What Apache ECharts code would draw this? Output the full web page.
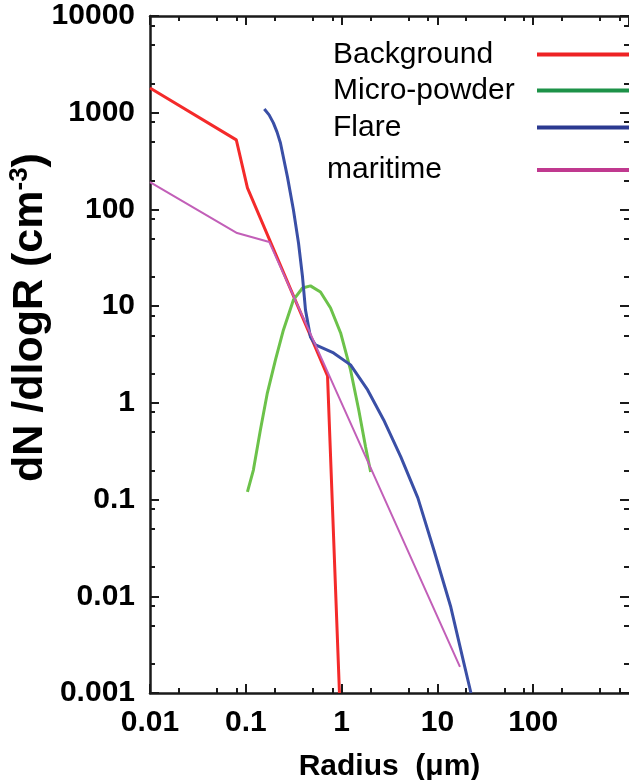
<!DOCTYPE html>
<html>
<head>
<meta charset="utf-8">
<script src="https://cdn.jsdelivr.net/npm/echarts@6/dist/echarts.min.js"></script>
<style>
html,body{margin:0;padding:0;background:#fff;}
#chart{width:629px;height:780px;}
</style>
</head>
<body>
<div id="chart"></div>
<script>
// ---- data ----
const seriesNames = ['Background', 'Micro-powder', 'Flare', 'maritime'];

const bgX = [0.01, 0.0796, 0.104, 0.713, 0.95];
const bgY = [1800, 524, 167, 1.9, 0.001];

const mpX = [0.104, 0.120, 0.142, 0.168, 0.204, 0.247, 0.314, 0.391, 0.473, 0.602, 0.767, 0.977, 1.24, 1.51, 1.78, 2.01];
const mpY = [0.12, 0.202, 0.525, 1.27, 2.78, 5.67, 11.6, 15.4, 16.2, 14.0, 9.58, 5.28, 2.19, 0.845, 0.350, 0.193];

const flX = [0.156, 0.175, 0.194, 0.212, 0.230, 0.272, 0.314, 0.355, 0.391, 0.420, 0.473, 0.535, 0.824, 1.24, 1.87, 2.75, 4.15, 6.25, 9.19, 13.8, 18.9, 22.4];
const flY = [1094, 950, 785, 630, 487, 217, 99, 45, 20, 9.1, 4.8, 3.97, 3.28, 2.47, 1.36, 0.665, 0.276, 0.104, 0.0301, 0.00774, 0.00204, 0.001];

const maX = [0.01, 0.0811, 0.176, 17.2];
const maY = [192, 57, 46, 0.00186];

// axis ranges and ticks
const xRange = [0.01, 1000];
const yRange = [0.001, 10000];
const xMinorTicks = [0.02, 0.05, 0.08, 0.2, 0.5, 0.8, 2, 5, 8, 20, 50, 80, 200, 500, 800];
const yMinorTicks = [0.002, 0.005, 0.008, 0.02, 0.05, 0.08, 0.2, 0.5, 0.8, 2, 5, 8, 20, 50, 80, 200, 500, 800, 2000, 5000, 8000];

// ---- chart ----
const FONT = '"Liberation Sans", Arial, Helvetica, sans-serif';
const lineColors = ['#f42a2a', '#6cc24a', '#3a4fa6', '#c25fb8'];
const legendColors = ['#ee2224', '#1d9248', '#2b3990', '#c0398f'];
const lineWidths = [3, 3, 3, 2];
const AX = '#1a1a1a';

function pairs(xs, ys) { return xs.map((x, i) => [x, ys[i]]); }
function fmt(v) { return String(Number(Number(v).toPrecision(6))); }

function majorAxis(pos, range, withLabels) {
  return {
    type: 'log', logBase: 10, min: range[0], max: range[1], position: pos,
    axisLine: { show: pos !== 'right', onZero: false, lineStyle: { color: AX, width: 2.5 } },
    axisTick: { show: true, inside: true, length: 9, lineStyle: { color: AX, width: 2 } },
    axisLabel: withLabels ? {
      show: true, formatter: fmt, fontFamily: FONT, fontSize: 30, fontWeight: 'bold', color: '#000',
      margin: 15, showMaxLabel: pos === 'left'
    } : { show: false },
    splitLine: { show: false }, minorTick: { show: false }, minorSplitLine: { show: false }
  };
}
// minor ticks: a linear axis spanning the same decades (log10 units), ticks at log10 of the tick values
function minorAxis(pos, range, ticks) {
  return {
    type: 'value', min: Math.log10(range[0]), max: Math.log10(range[1]), position: pos,
    axisLine: { show: false, onZero: false },
    axisTick: { show: true, inside: true, length: 5, customValues: ticks.map(Math.log10), lineStyle: { color: AX, width: 2 } },
    axisLabel: { show: false },
    splitLine: { show: false }, minorTick: { show: false }
  };
}

function mkLegend(i, left, top, textWidth) {
  const key = 't' + i;
  return {
    show: true, orient: 'horizontal', align: 'right',
    left: left, top: top, padding: 0,
    itemWidth: 100, itemHeight: 4, selectedMode: false,
    data: [{ name: seriesNames[i], icon: 'rect', itemStyle: { color: legendColors[i], borderWidth: 0 } }],
    formatter: n => '{' + key + '|' + n + '}',
    textStyle: {
      fontFamily: FONT, fontSize: 30, color: '#000',
      rich: { [key]: { width: textWidth, align: 'left', fontFamily: FONT, fontSize: 30, lineHeight: 30, color: '#000' } }
    }
  };
}

const chart = echarts.init(document.getElementById('chart'), null, { renderer: 'canvas' });
const xData = [bgX, mpX, flX, maX];
const yData = [bgY, mpY, flY, maY];

chart.setOption({
  animation: false,
  backgroundColor: '#fff',
  textStyle: { fontFamily: FONT },
  grid: { left: 150, right: 0, top: 16, bottom: 87, containLabel: false, outerBoundsMode: 'none' },
  legend: [
    mkLegend(0, 333, 39.5, 199),
    mkLegend(1, 333, 75.5, 199),
    mkLegend(2, 333, 112.5, 199),
    mkLegend(3, 327, 155, 205)
  ],
  xAxis: [
    Object.assign(majorAxis('bottom', xRange, true), {
      name: 'Radius  (\u03bcm)', nameLocation: 'middle', nameGap: 59, nameMoveOverlap: false,
      nameTextStyle: { fontFamily: FONT, fontSize: 30, fontWeight: 'bold', color: '#000' }
    }),
    minorAxis('bottom', xRange, xMinorTicks),
    majorAxis('top', xRange, false),
    minorAxis('top', xRange, xMinorTicks)
  ],
  yAxis: [
    Object.assign(majorAxis('left', yRange, true), {
      name: 'dN /dlogR (cm{sup|-3})', nameLocation: 'middle', nameGap: 97, nameMoveOverlap: false,
      nameTextStyle: {
        fontFamily: FONT, fontSize: 43, fontWeight: 'bold', color: '#000', padding: [0, 0, 0, 74],
        rich: { sup: { fontFamily: FONT, fontSize: 26, fontWeight: 'bold', color: '#000', padding: [0, 0, 20, 0] } }
      }
    }),
    minorAxis('left', yRange, yMinorTicks),
    majorAxis('right', yRange, false),
    minorAxis('right', yRange, yMinorTicks)
  ],
  series: seriesNames.map((n, i) => ({
    name: n, type: 'line', xAxisIndex: 0, yAxisIndex: 0,
    data: pairs(xData[i], yData[i]),
    symbol: 'none', smooth: false,
    lineStyle: { color: lineColors[i], width: lineWidths[i] },
    itemStyle: { color: lineColors[i] },
    z: 2 + i
  }))
});
</script>
</body>
</html>
